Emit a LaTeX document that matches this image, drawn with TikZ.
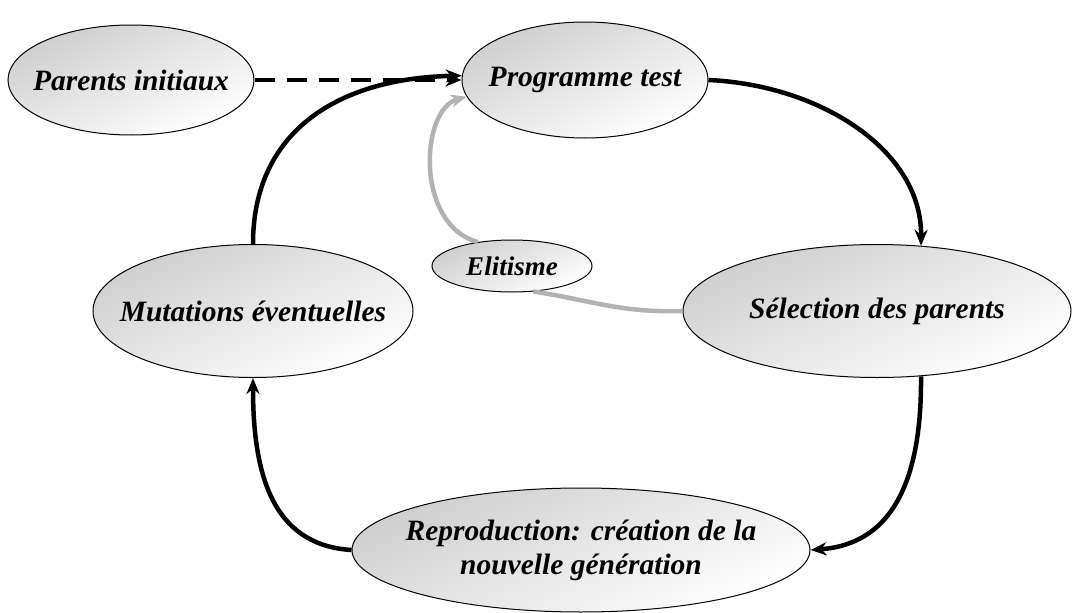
\documentclass[tikz,border=0pt]{standalone}
\usepackage{fontspec}
\setmainfont{Liberation Serif}
\usetikzlibrary{shapes.geometric,arrows.meta}
\begin{document}
\begin{tikzpicture}[x=1pt,y=-1pt,
  bubble/.style={ellipse, draw=black, line width=1pt, inner sep=0pt,
    top color=gray!38, bottom color=white, shading angle=25},
  txt/.style={font=\bfseries\itshape\fontsize{29.5}{34}\selectfont, align=center, inner sep=0pt},
  flow/.style={line width=4.5pt, draw=black, -{Stealth[length=16pt,width=13pt]}},
  gflow/.style={line width=4.5pt, draw=gray!60},
]
\useasboundingbox (0,0) rectangle (1072,613);
\node[bubble, minimum width=246pt, minimum height=110pt] (par) at (131,80) {};
\node[txt] (part) at (par.center) {Parents initiaux};
\node[bubble, minimum width=246pt, minimum height=116pt] (prog) at (585,80) {};
\node[txt] (progt) at (prog.center) {Programme test};
\node[bubble, minimum width=160pt, minimum height=52pt] (eli) at (512,266) {};
\node[txt, font=\bfseries\itshape\fontsize{27}{31}\selectfont] (elit) at (eli.center) {Elitisme};
\node[bubble, minimum width=320pt, minimum height=133pt] (mut) at (253,311) {};
\node[txt] (mutt) at (mut.center) {Mutations éventuelles};
\node[bubble, minimum width=388pt, minimum height=133pt] (sel) at (877,311) {};
\node[txt] (selt) at (sel.center) {Sélection des parents};
\node[bubble, minimum width=458pt, minimum height=124pt] (rep) at (581,550) {};
\node[txt] (rept) at (rep.center) {Reproduction: création de la\\nouvelle génération};

\draw[flow, dash pattern=on 20pt off 12pt] (par.east) -- (par.east -| prog.west);
\draw[flow] (mut.north) .. controls (253,130) and (340,78) .. (prog.178);
\draw[flow] (prog.east) .. controls (820,85) and (922,150) .. (sel.56);
\draw[flow] (sel.-56) .. controls (922,500) and (880,545) .. (rep.east);
\draw[flow] (rep.west) .. controls (270,545) and (253,470) .. (mut.south);
\draw[gflow] (sel.west) .. controls (620,313) and (590,300) .. (eli.-50);
\draw[gflow, -{Stealth[length=16pt,width=13pt]}] (eli.145) .. controls (415,225) and (420,110) .. (prog.-172);
\end{tikzpicture}
\end{document}
